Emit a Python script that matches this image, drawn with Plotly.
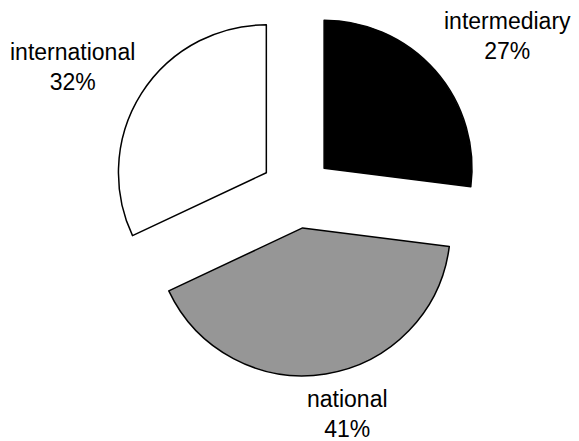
import plotly.graph_objects as go

labels = ["intermediary", "national", "international"]
values = [27, 41, 32]
colors = ["#000000", "#969696", "#ffffff"]
pulls = [0.245, 0.245, 0.245]

# label block centres (paper coordinates)
label_x = [0.863, 0.587, 0.112]
label_y = [0.936, 0.079, 0.866]

total = sum(values)
fig = go.Figure(go.Pie(
    labels=labels,
    values=values,
    sort=False,
    direction="clockwise",
    rotation=0,
    pull=pulls,
    marker=dict(colors=colors, line=dict(color="#000000", width=1.5)),
    textinfo="none",
    hoverinfo="label+percent",
    showlegend=False,
    domain=dict(x=[0.181, 0.817], y=[0.165, 1.0]),
))

for lab, v, lx, ly in zip(labels, values, label_x, label_y):
    fig.add_annotation(
        x=lx, y=ly, xref="paper", yref="paper",
        text=f"{lab}<br>{round(v / total * 100)}%",
        showarrow=False, xanchor="center", yanchor="middle",
        borderpad=0,
        font=dict(family="Liberation Sans, Arial, sans-serif", size=23, color="#000000"),
    )

fig.update_layout(
    width=579,
    height=441,
    margin=dict(l=0, r=0, t=0, b=0),
    paper_bgcolor="#ffffff",
    plot_bgcolor="#ffffff",
)

fig.write_html("out.html")
